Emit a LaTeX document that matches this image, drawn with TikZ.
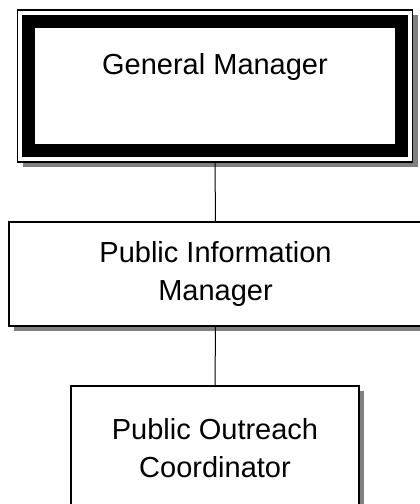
\documentclass[tikz,border=0pt]{standalone}
\usepackage{fontspec}
\setmainfont{Liberation Sans}
\usetikzlibrary{positioning,shadows,calc}

\tikzset{
	orgbox/.style={draw, line width=1.5pt, fill=white, inner sep=0pt, align=center,
		font=\fontsize{29}{38}\selectfont,
		drop shadow={shadow xshift=5pt, shadow yshift=-5pt, fill=black!50, opacity=1}},
	chiefbox/.style={orgbox, text height=20pt, text depth=44pt},
	linkline/.style={draw, line width=1pt}
}

\begin{document}
\begin{tikzpicture}[x=1pt, y=-1pt]
		\useasboundingbox (0,0) rectangle (420,504);
		
		\node[chiefbox, minimum width=395pt, minimum height=152pt] (gm) at (215,86) {General Manager};
		\draw[line width=13pt] ($(gm.north west)+(12,12)$) rectangle ($(gm.south east)+(-12,-12)$);
		
		\node[orgbox, minimum width=413pt, minimum height=104pt] (pim) at (215.5,274) {Public Information\\Manager};
		
		\node[orgbox, minimum width=288pt, minimum height=124pt] (poc) at (215,448) {Public Outreach\\Coordinator};
		
		\draw[linkline] (gm.south) -- (pim.north);
		\draw[linkline] (pim.south) -- (poc.north);
		
\end{tikzpicture}
\end{document}
